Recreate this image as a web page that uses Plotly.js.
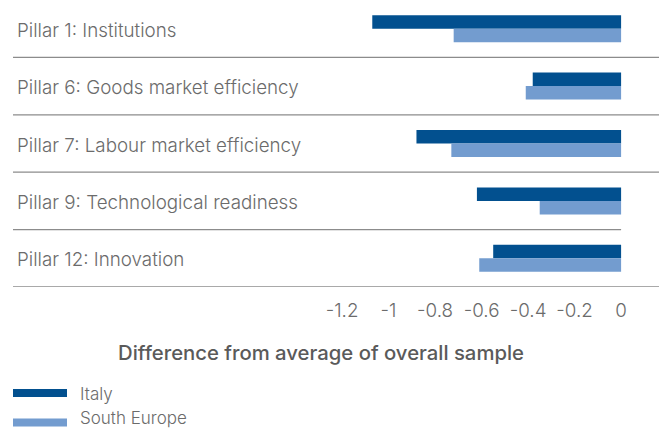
<!DOCTYPE html>
<html>
<head>
<meta charset="utf-8">
<script src="https://cdn.plot.ly/plotly-3.0.1.min.js"></script>
<style>html,body{margin:0;padding:0;background:#fff;}#chart{width:659px;height:430px;}</style>
</head>
<body>
<div id="chart"></div>
<script>
const categories = [
  'Pillar 1: Institutions',
  'Pillar 6: Goods market efficiency',
  'Pillar 7: Labour market efficiency',
  'Pillar 9: Technological readiness',
  'Pillar 12: Innovation'
];
const seriesNames = ['Italy', 'South Europe'];
const italy = [-1.07, -0.38, -0.88, -0.62, -0.55];
const southEurope = [-0.72, -0.41, -0.73, -0.35, -0.61];
const tickVals = [-1.2, -1, -0.8, -0.6, -0.4, -0.2, 0];
const tickText = ['-1.2', '-1', '-0.8', '-0.6', '-0.4', '-0.2', '0'];
const axisTitle = 'Difference from average of overall sample';

const colors = ['#02508f', '#739ccf'];
const W = 659, H = 430;
const mL = 13, mR = 0, mT = 0, mB = 143;
const plotH = H - mT - mB;
const plotW = W - mL - mR;
const pyToPaper = py => (H - mB - py) / plotH;
const pxToPaper = px => (px - mL) / plotW;

const traces = [italy, southEurope].map((vals, i) => ({
  type: 'bar', orientation: 'h',
  x: vals, y: categories, name: seriesNames[i],
  marker: {color: colors[i], line: {width: 0}},
  hoverinfo: 'x+y', showlegend: false
}));

const lineColor = '#8c8c8c';
const shapes = [];
categories.forEach((c, i) => {
  const isFourth = i === 3;
  shapes.push({
    type: 'line', xref: isFourth ? 'x' : 'paper', yref: 'y',
    x0: isFourth ? -2.615 : 0, x1: isFourth ? 0 : 1,
    y0: i + 0.5, y1: i + 0.5,
    line: {color: lineColor, width: 1.3}
  });
});
// legend swatches
const swatchY = [393, 422.5];
swatchY.forEach((py, i) => {
  shapes.push({
    type: 'rect', xref: 'paper', yref: 'paper',
    x0: pxToPaper(13), x1: pxToPaper(67),
    y0: pyToPaper(py - 4), y1: pyToPaper(py + 4),
    fillcolor: colors[i], line: {width: 0}
  });
});

const FAM = 'Inter, Liberation Sans, Arial, sans-serif';
const textFont = {family: FAM, size: 18.8, color: '#6b6b6b', weight: 300};
const annotations = categories.map((c, i) => ({
  text: c, xref: 'paper', yref: 'y', x: pxToPaper(15), y: i,
  xanchor: 'left', yanchor: 'middle', yshift: -1.5, showarrow: false,
  font: textFont
}));
annotations.push({
  text: axisTitle, xref: 'paper', yref: 'paper',
  x: pxToPaper(321), y: pyToPaper(353), xanchor: 'center', yanchor: 'middle',
  showarrow: false,
  font: {family: FAM, size: 20.3, color: '#5a5a5a', weight: 500}
});
const legFont = {family: FAM, size: 17, color: '#6b6b6b', weight: 300};
annotations.push({
  text: seriesNames[0], xref: 'paper', yref: 'paper',
  x: pxToPaper(78), y: pyToPaper(393.5), xanchor: 'left', yanchor: 'middle',
  showarrow: false, font: legFont
});
annotations.push({
  text: seriesNames[1], xref: 'paper', yref: 'paper',
  x: pxToPaper(78), y: pyToPaper(429.5), xanchor: 'left', yanchor: 'bottom',
  showarrow: false, font: legFont
});

const layout = {
  width: W, height: H,
  margin: {l: mL, r: mR, t: mT, b: mB, pad: 0},
  paper_bgcolor: '#ffffff', plot_bgcolor: '#ffffff',
  barmode: 'group', bargap: 0.53, bargroupgap: 0,
  showlegend: false,
  xaxis: {
    range: [-2.615, 0.163], tickvals: tickVals, ticktext: tickText,
    showgrid: false, zeroline: false, showline: false,
    ticks: 'outside', ticklen: 6, tickcolor: 'rgba(0,0,0,0)',
    tickfont: {family: FAM, size: 18.8, color: '#6b6b6b', weight: 300},
    fixedrange: true
  },
  yaxis: {
    range: [4.5, -0.5], type: 'category',
    showticklabels: false, showgrid: false, zeroline: false, showline: false,
    fixedrange: true
  },
  shapes: shapes,
  annotations: annotations,
  font: textFont
};

Plotly.newPlot('chart', traces, layout, {displayModeBar: false, staticPlot: true});
</script>
</body>
</html>
